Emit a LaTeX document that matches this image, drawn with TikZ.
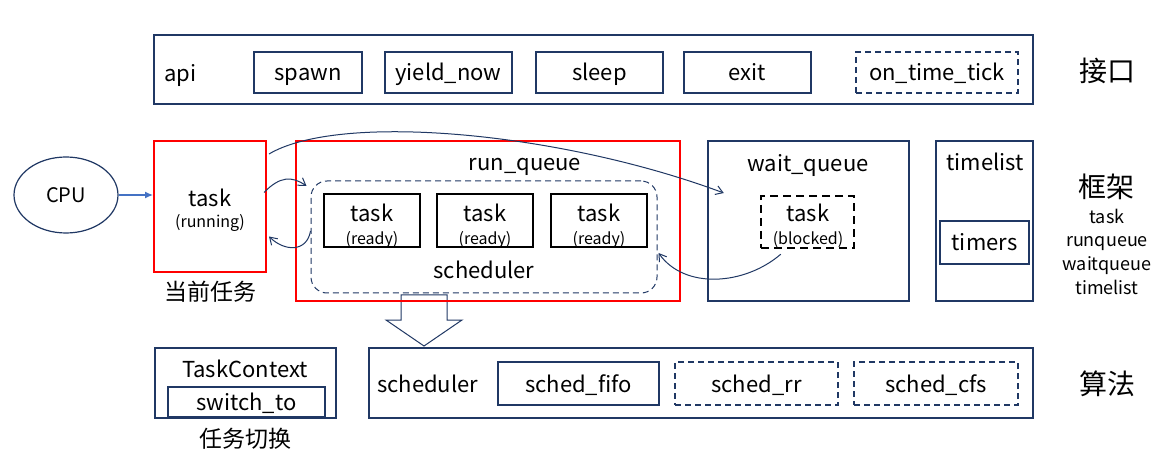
\documentclass[tikz,border=0pt]{standalone}
\usepackage{fontspec}
\setmainfont{Noto Sans CJK SC}
\usetikzlibrary{arrows.meta,calc,shapes.geometric}
\definecolor{navy}{HTML}{203864}
\definecolor{cpublue}{HTML}{4472C4}
\begin{document}
\begin{tikzpicture}[x=1pt,y=-1pt,
  thinbox/.style={draw=navy,line width=1.2pt,minimum width=#1,inner sep=0pt,minimum height=41pt,font=\fontsize{22}{24}\selectfont,text height=18pt,text depth=1pt},
  dbox/.style={thinbox=#1,dash pattern=on 6pt off 4pt},
  bigbox/.style={draw=navy,line width=2.4pt,inner sep=0pt},
  redbox/.style={draw=red,line width=2pt,inner sep=0pt},
  readybox/.style={draw=black,line width=2.4pt,minimum width=96pt,minimum height=53pt,inner sep=0pt},
  lbl/.style={font=\fontsize{22}{24}\selectfont,inner sep=0pt,text height=16pt,text depth=4pt},
  slbl/.style={font=\fontsize{16}{18}\selectfont,inner sep=0pt,text height=11pt,text depth=2.4pt},
  cjk/.style={font=\fontsize{23}{25}\selectfont,inner sep=0pt,text height=20pt,text depth=2.5pt},
  big/.style={font=\fontsize{28}{30}\selectfont,inner sep=0pt,text height=24pt,text depth=2.7pt},
  side/.style={font=\fontsize{18}{20}\selectfont,inner sep=0pt,text height=12pt,text depth=2.2pt},
  conn/.style={draw=navy,line width=1pt,-{Straight Barb[length=7pt,width=9pt]}}]
\useasboundingbox (0,0) rectangle (1168,465);
\fill[white] (0,0) rectangle (1168,465);

% ---- api row
\node[bigbox,minimum width=879pt,minimum height=69pt] (api) at (593.5,69.5) {};
\node[lbl,anchor=west] (apit) at (164,76) {api};
\node[thinbox=108pt] (spawn) at (308,72.5) {spawn};
\node[thinbox=127pt] (yield) at (448.5,72.5) {yield\_now};
\node[thinbox=127pt] (sleep) at (599.5,72.5) {sleep};
\node[thinbox=127pt] (exit) at (747.5,72.5) {exit};
\node[dbox=162pt] (tick) at (937,72.5) {on\_time\_tick};

% ---- hollow arrow (drawn below the run_queue frame)
\draw[navy,line width=1pt,fill=white] (401,295) -- (447,295) -- (447,320) -- (462,320) -- (424,346) -- (386,320) -- (401,320) -- cycle;

% ---- framework row
\node[draw=navy,line width=1.2pt,ellipse,minimum width=104pt,minimum height=76pt,inner sep=0pt,font=\fontsize{20}{22}\selectfont,text height=14.4pt,text depth=0pt] (cpu) at (66,195) {CPU};
\node[redbox,minimum width=112pt,minimum height=131pt] (taskrun) at (210,206.5) {};
\node[lbl] (taskrunt) at (210,200.5) {task};
\node[slbl] (taskruns) at (210,223.5) {(running)};
\node[cjk] (cur) at (210,292) {当前任务};

\node[redbox,minimum width=384pt,minimum height=160pt] (runq) at (488,221) {};
\node[lbl] (runqt) at (525,165) {run\_queue};
\node[draw=navy,line width=1pt,dash pattern=on 6pt off 4pt,rounded corners=16pt,minimum width=346pt,minimum height=112pt,inner sep=0pt] (sched) at (484,237) {};
\node[lbl] (schedt) at (484,273) {scheduler};
\foreach \i/\x in {1/372,2/485,3/599}{
  \node[readybox] (ready\i) at (\x,220.5) {};
  \node[lbl] (ready\i t) at (\x,216) {task};
  \node[slbl] (ready\i s) at (\x,240) {(ready)};
}

\node[bigbox,minimum width=201pt,minimum height=160pt] (waitq) at (808.5,221) {};
\node[lbl] (waitqt) at (808,166) {wait\_queue};
\node[draw=black,line width=2.4pt,dash pattern=on 8pt off 5pt,minimum width=93pt,minimum height=52pt,inner sep=0pt] (blocked) at (807.5,222) {};
\node[lbl] (blockedt) at (808,216) {task};
\node[slbl] (blockeds) at (808,240) {(blocked)};

\node[draw=navy,line width=1.2pt,minimum width=97pt,minimum height=160pt,inner sep=0pt] (timel) at (984.5,221) {};
\node[lbl] (timelt) at (985,165) {timelist};
\node[thinbox=89pt,minimum height=43pt] (timers) at (984.5,242.5) {timers};

% ---- right labels
\node[big] (jk) at (1107,71) {接口};
\node[big] (kj) at (1106,187) {框架};
\node[side] (s1) at (1107,218.5) {task};
\node[side] (s2) at (1107,242) {runqueue};
\node[side] (s3) at (1107,266) {waitqueue};
\node[side] (s4) at (1107,290) {timelist};
\node[big] (sf) at (1107,383.5) {算法};

% ---- algorithm row
\node[draw=navy,line width=1.2pt,minimum width=181pt,minimum height=70pt,inner sep=0pt] (tctx) at (245.5,383) {};
\node[lbl] (tctxt) at (245,371) {TaskContext};
\node[thinbox=157pt,minimum height=30pt,text height=17pt] (switch) at (246.5,402) {switch\_to};
\node[cjk] (rwqh) at (245,439) {任务切换};

\node[draw=navy,line width=1.2pt,minimum width=664pt,minimum height=70pt,inner sep=0pt] (schedb) at (701,383) {};
\node[lbl,anchor=west] (schedbt) at (377,386) {scheduler};
\node[thinbox=161pt,minimum height=43pt] (fifo) at (578.5,383.5) {sched\_fifo};
\node[dbox=163pt,minimum height=43pt] (rr) at (756.5,383.5) {sched\_rr};
\node[dbox=164pt,minimum height=43pt] (cfs) at (936,383.5) {sched\_cfs};

% ---- connectors
\draw[cpublue,line width=1.2pt,-{Latex[length=8pt,width=7pt]}] (cpu.east) -- (cpu.east -| taskrun.west);
\coordinate (c1s) at ($(taskrun.north east)+(2,14)$);
\coordinate (c1e) at ($(waitq.west)+(17,-28)$);
\draw[conn] (c1s) .. controls (340,112) and (560,132) .. (c1e);
\coordinate (c2s) at ($(taskrun.east)+(-3,-14)$);
\coordinate (c2e) at ($(sched.west)+(-4,-51)$);
\draw[conn] (c2s) .. controls (280,176) and (292,176) .. (c2e);
\coordinate (c3s) at ($(sched.west)+(0,-6)$);
\coordinate (c3e) at ($(taskrun.east)+(2,30)$);
\draw[conn] (c3s) .. controls (307,252) and (285,252) .. (c3e);
\coordinate (c4s) at ($(blocked.south west)+(21,5)$);
\coordinate (c4e) at ($(sched.east)+(1,16)$);
\draw[conn] (c4s) .. controls (745,285) and (685,290) .. (c4e);
\end{tikzpicture}
\end{document}
